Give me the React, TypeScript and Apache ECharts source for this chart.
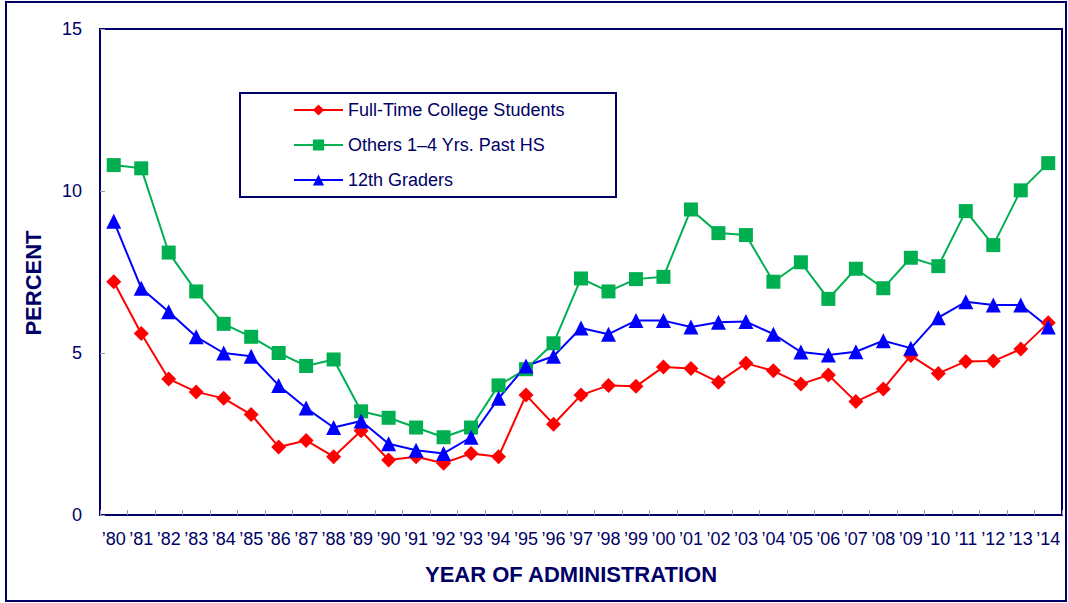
import React, { useEffect, useRef } from "react";
import * as echarts from "echarts";

const years = ["’80","’81","’82","’83","’84","’85","’86","’87","’88","’89","’90","’91","’92","’93","’94","’95","’96","’97","’98","’99","’00","’01","’02","’03","’04","’05","’06","’07","’08","’09","’10","’11","’12","’13","’14"];

const fullTime = [7.2,5.6,4.2,3.8,3.6,3.1,2.1,2.3,1.8,2.6,1.7,1.8,1.6,1.9,1.8,3.7,2.8,3.7,4.0,3.97,4.57,4.52,4.1,4.68,4.45,4.04,4.32,3.5,3.89,4.92,4.37,4.74,4.75,5.12,5.93];
const others = [10.8,10.7,8.1,6.9,5.9,5.5,5.0,4.6,4.8,3.2,3.0,2.7,2.4,2.7,4.0,4.5,5.3,7.3,6.9,7.28,7.35,9.43,8.7,8.64,7.2,7.8,6.67,7.6,7.0,7.94,7.68,9.38,8.33,10.02,10.86];
const grade12 = [9.07,7.0,6.27,5.5,5.0,4.9,4.0,3.3,2.7,2.9,2.2,2.0,1.9,2.4,3.6,4.6,4.9,5.77,5.58,6.0,6.0,5.8,5.95,5.97,5.58,5.03,4.94,5.04,5.38,5.15,6.09,6.58,6.48,6.48,5.8];

const NAVY = "#000066";
const FONT = "Liberation Sans, Arial, sans-serif";

export default function App() {
  const ref = useRef<HTMLDivElement>(null);
  useEffect(() => {
    document.body.style.margin = "0";
    const chart = echarts.init(ref.current!, null, { renderer: "svg" });
    const mk = (name: string, data: number[], color: string, symbol: string, size: number) => ({
      name,
      type: "line",
      data,
      symbol,
      symbolSize: size,
      showAllSymbol: true,
      itemStyle: { color },
      lineStyle: { color, width: 2 },
    });
    chart.setOption({
      animation: false,
      textStyle: { fontFamily: FONT },
      grid: { left: 100, top: 29, right: 6, bottom: 88, show: true, borderColor: NAVY, borderWidth: 2 },
      legend: {
        orient: "vertical",
        left: 288,
        top: 96,
        itemWidth: 49,
        itemHeight: 14,
        itemGap: 17,
        textStyle: { color: NAVY, fontSize: 18, fontFamily: FONT },
        data: ["Full-Time College Students", "Others 1–4 Yrs. Past HS", "12th Graders"],
      },
      graphic: [
        { type: "rect", shape: { x: 6, y: 2, width: 1060, height: 599 }, style: { fill: "none", stroke: NAVY, lineWidth: 2 }, silent: true },
        { type: "rect", shape: { x: 240, y: 93, width: 376, height: 104 }, style: { fill: "none", stroke: NAVY, lineWidth: 2 }, silent: true },
        {
          type: "text", x: 571, y: 574, silent: true,
          style: { text: "YEAR OF ADMINISTRATION", fill: NAVY, font: `bold 22px ${FONT}`, align: "center", verticalAlign: "middle" },
        },
        {
          type: "text", x: 33, y: 283, rotation: Math.PI / 2, silent: true,
          style: { text: "PERCENT", fill: NAVY, font: `bold 22px ${FONT}`, align: "center", verticalAlign: "middle" },
        },
      ],
      xAxis: {
        type: "category",
        data: years,
        boundaryGap: true,
        axisLine: { lineStyle: { color: NAVY, width: 2 } },
        axisTick: { show: true, inside: true, length: 5, lineStyle: { color: "#9999bb" } },
        axisLabel: { color: NAVY, fontSize: 18, margin: 15, interval: 0, fontFamily: FONT },
      },
      yAxis: {
        type: "value",
        min: 0,
        max: 15,
        interval: 5,
        splitLine: { show: false },
        axisLine: { show: true, lineStyle: { color: NAVY, width: 2 } },
        axisTick: { show: true, inside: true, length: 5, lineStyle: { color: "#9999bb" } },
        axisLabel: { color: NAVY, fontSize: 18, margin: 18, fontFamily: FONT },
      },
      series: [
        mk("Full-Time College Students", fullTime, "#ff0000", "diamond", 15),
        mk("Others 1–4 Yrs. Past HS", others, "#00b050", "rect", 14),
        mk("12th Graders", grade12, "#0000ff", "triangle", 15),
      ],
    });
    return () => chart.dispose();
  }, []);
  return <div ref={ref} style={{ width: 1068, height: 603 }} />;
}
